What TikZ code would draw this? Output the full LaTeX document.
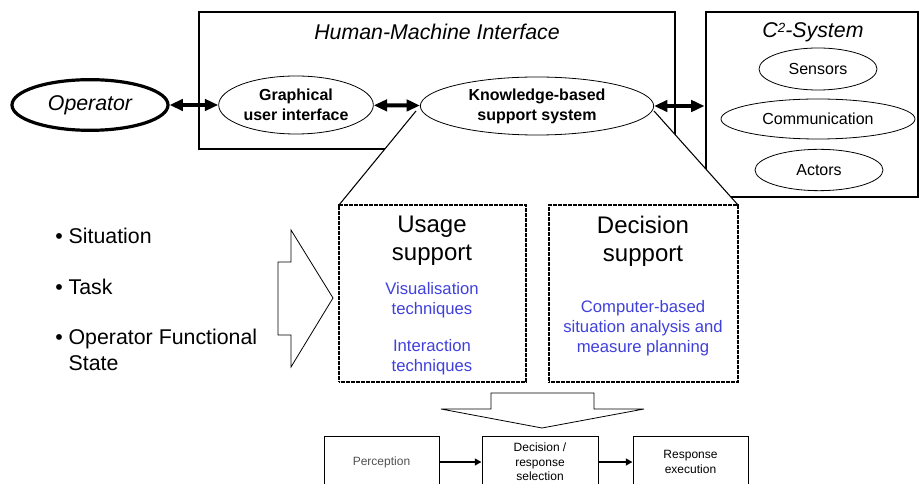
\documentclass[tikz,border=0pt]{standalone}
\usepackage{fontspec}
\setmainfont{Liberation Sans}
\usepackage{xcolor}
\usepackage{tikz}
\usetikzlibrary{shapes.geometric,arrows.meta}
\definecolor{supportblue}{HTML}{4040DC}
\definecolor{percgray}{HTML}{505050}
\tikzset{
  frame/.style={draw, rectangle, line width=2.2pt, inner sep=0pt},
  oval/.style={draw, ellipse, fill=white, inner sep=0pt, line width=0.6pt, align=center, font=\fontsize{12}{15}\selectfont},
  dotbox/.style={draw, rectangle, line width=1.3pt, dash pattern=on 0.9pt off 0.35pt, inner sep=0pt},
  stagebox/.style={draw, rectangle, line width=0.7pt, inner sep=0pt, align=center, font=\fontsize{9}{11}\selectfont},
  heading/.style={align=center, inner sep=0pt, font=\fontsize{18}{21}\selectfont},
  bluetxt/.style={align=center, inner sep=0pt, text=supportblue, font=\fontsize{12.5}{15}\selectfont},
  bullettxt/.style={align=left, anchor=west, inner sep=0pt, font=\fontsize{16}{19.5}\selectfont},
  biarrow/.style={{Triangle[length=10pt,width=8.5pt]}-{Triangle[length=10pt,width=8.5pt]}, line width=3pt},
  flow/.style={-{Triangle[length=5pt,width=5pt]}, line width=1.5pt},
  bigarrow/.style={draw, fill=white, line width=0.6pt, line join=miter},
}
\begin{document}
\begin{tikzpicture}[x=0.75pt, y=-0.75pt]%
\useasboundingbox (0,0) rectangle (920,484);%
\node[frame, minimum width=357pt, minimum height=102.75pt] (hmi) at (437,80.5) {};%
\node[font=\fontsize{16}{19}\selectfont\itshape] (hmititle) at (437,32) {Human-Machine Interface};%
\node[frame, minimum width=159pt, minimum height=138.75pt] (ctwo) at (812,104.5) {};%
\node[font=\fontsize{16}{19}\selectfont\itshape] (ctwotitle) at (813,32) {C\raisebox{0.45ex}{\fontsize{10}{12}\selectfont 2}-System};%
% zoom into the support system
\coordinate (zoomtl) at (416,111);%
\coordinate (zoomtr) at (654,111);%
\coordinate (zoombl) at (339,205);%
\coordinate (zoombr) at (738,205);%
\fill[white] (zoomtl) -- (zoombl) -- (zoombr) -- (zoomtr) -- cycle;%
\draw[line width=0.8pt] (zoomtl) -- (zoombl);%
\draw[line width=0.8pt] (zoomtr) -- (zoombr);%
\node[oval, line width=2.4pt, minimum width=117pt, minimum height=38pt, font=\fontsize{16}{19}\selectfont\itshape] (op) at (90,105) {Operator};%
\node[oval, minimum width=116pt, minimum height=43.5pt, font=\fontsize{12}{15}\selectfont\bfseries] (gui) at (296,105) {Graphical\\user interface};%
\node[oval, minimum width=175pt, minimum height=43.5pt, font=\fontsize{12}{15}\selectfont\bfseries] (kbs) at (537,106) {Knowledge-based\\support system};%
\node[oval, minimum width=88.5pt, minimum height=31.5pt] (sensors) at (818,69) {Sensors};%
\node[oval, minimum width=145.5pt, minimum height=30pt] (comm) at (818,119) {Communication};%
\node[oval, minimum width=96pt, minimum height=31pt] (actors) at (819,170) {Actors};%
\draw[biarrow] (op) -- (gui);%
\draw[biarrow] (gui) -- (kbs);%
\draw[biarrow] (kbs) -- (kbs -| ctwo.west);%
\node[dotbox, minimum width=140.25pt, minimum height=132.75pt] (usage) at (432.5,293.5) {};%
\node[dotbox, minimum width=141.75pt, minimum height=132.75pt] (decision) at (643.5,293.5) {};%
\node[heading] (usagehd) at (432,241) {Usage\\support};%
\node[bluetxt] (vis) at (432,300) {Visualisation\\techniques};%
\node[bluetxt] (inter) at (432,357) {Interaction\\techniques};%
\node[heading] (dechd) at (643,241) {Decision\\support};%
\node[bluetxt] (cbased) at (643,328) {Computer-based\\situation analysis and\\measure planning};%
\node[bullettxt] (sit) at (55,236) {• Situation};%
\node[bullettxt] (task) at (55,287) {• Task};%
\node[bullettxt] (ofs) at (55,350) {• Operator Functional\\\phantom{• }State};%
\draw[bigarrow] (278,262) -- (291,262) -- (291,230) -- (333,298) -- (291,367) -- (291,335) -- (278,335) -- cycle;%
\draw[bigarrow] (491,393) -- (594,393) -- (594,409) -- (644,409) -- (542,428) -- (441,409) -- (491,409) -- cycle;%
\node[stagebox, text=percgray, minimum width=86.25pt, minimum height=39pt] (perc) at (381.5,462) {Perception};%
\node[stagebox, minimum width=87pt, minimum height=39pt] (decsel) at (540,462) {Decision /\\response\\selection};%
\node[stagebox, minimum width=86.25pt, minimum height=39pt] (resp) at (690.5,462) {Response\\execution};%
\draw[flow] (perc) -- (decsel);%
\draw[flow] (decsel) -- (resp);%
\end{tikzpicture}
\end{document}
